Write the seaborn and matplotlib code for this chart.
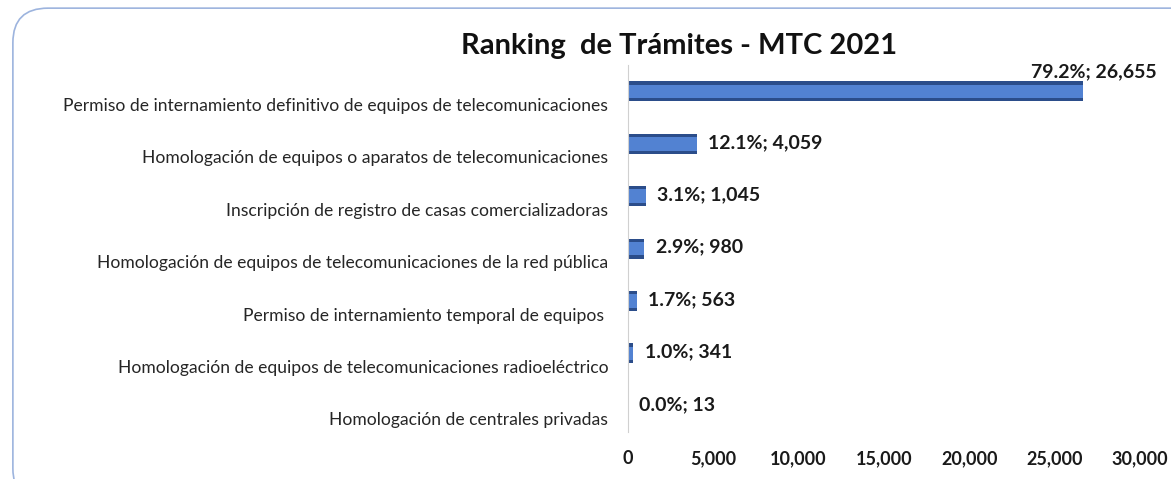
import matplotlib
matplotlib.use("Agg")
import matplotlib.pyplot as plt
import matplotlib.transforms as mtransforms
from matplotlib.patches import FancyBboxPatch
import seaborn as sns
import pandas as pd

tramites = [
    "Permiso de internamiento definitivo de equipos de telecomunicaciones",
    "Homologación de equipos o aparatos de telecomunicaciones",
    "Inscripción de registro de casas comercializadoras",
    "Homologación de equipos de telecomunicaciones de la red pública",
    "Permiso de internamiento temporal de equipos ",
    "Homologación de equipos de telecomunicaciones radioeléctrico",
    "Homologación de centrales privadas",
]
cantidades = [26655, 4059, 1045, 980, 563, 341, 13]
porcentajes = [79.2, 12.1, 3.1, 2.9, 1.7, 1.0, 0.0]
x_ticks = [0, 5000, 10000, 15000, 20000, 25000, 30000]

df = pd.DataFrame({"tramite": tramites, "cantidad": cantidades})

sns.set_style("white")
plt.rcParams["font.family"] = ["Lato", "DejaVu Sans"]

fig = plt.figure(figsize=(11.71, 4.79), dpi=100)
ax = fig.add_axes([0.536, 0.098, 0.4375, 0.766])

# chart area frame
frame = FancyBboxPatch((0.011, -0.05), 1.05, 1.033, boxstyle="round,pad=0,rounding_size=0.03",
                       transform=fig.transFigure, fill=False, edgecolor="#9db4de", linewidth=1.2,
                       mutation_aspect=2.4, zorder=0)
fig.patches.append(frame)

# bevel look: dark base bar + lighter inner bar
sns.barplot(data=df, x="cantidad", y="tramite", orient="h", color="#2b4d8a",
            width=0.38, saturation=1, linewidth=0, ax=ax)
sns.barplot(data=df, x="cantidad", y="tramite", orient="h", color="#5282d2",
            width=0.26, saturation=1, linewidth=0, ax=ax)

for i, (v, p) in enumerate(zip(cantidades, porcentajes)):
    txt = f"{p:.1f}%; {v:,}"
    if i == 0:
        ax.annotate(txt, (v, i), xytext=(-37, 8), textcoords="offset points",
                    ha="left", va="bottom", fontsize=14, fontweight="bold", color="#1a1a1a")
    else:
        ax.annotate(txt, (v, i), xytext=(8, 1), textcoords="offset points",
                    ha="left", va="center", fontsize=14, fontweight="bold", color="#1a1a1a")

ax.set_xlim(0, 30000)
ax.set_ylim(6.5, -0.5)
ax.set_xticks(x_ticks)
ax.set_xticklabels([f"{t:,}" for t in x_ticks], fontsize=13, fontweight="bold", color="#1a1a1a")
ax.set_xlabel("")
ax.set_ylabel("")
ax.tick_params(axis="both", length=0)
ax.tick_params(axis="x", pad=13)
ax.tick_params(axis="y", pad=14, labelsize=12.6, labelcolor="#262626")

# labels sit a bit below the bar centres, like the original
offset = mtransforms.ScaledTranslation(0, -13 / 100, fig.dpi_scale_trans)
for lab in ax.get_yticklabels():
    lab.set_transform(lab.get_transform() + offset)

for side in ["top", "right", "bottom"]:
    ax.spines[side].set_visible(False)
ax.spines["left"].set_color("#d0d0d0")
ax.patch.set_alpha(0)

fig.text(0.58, 0.905, "Ranking  de Trámites - MTC 2021", ha="center", va="center",
         fontsize=21, fontweight="bold", color="#111111")

fig.savefig("out.png", dpi=100)
